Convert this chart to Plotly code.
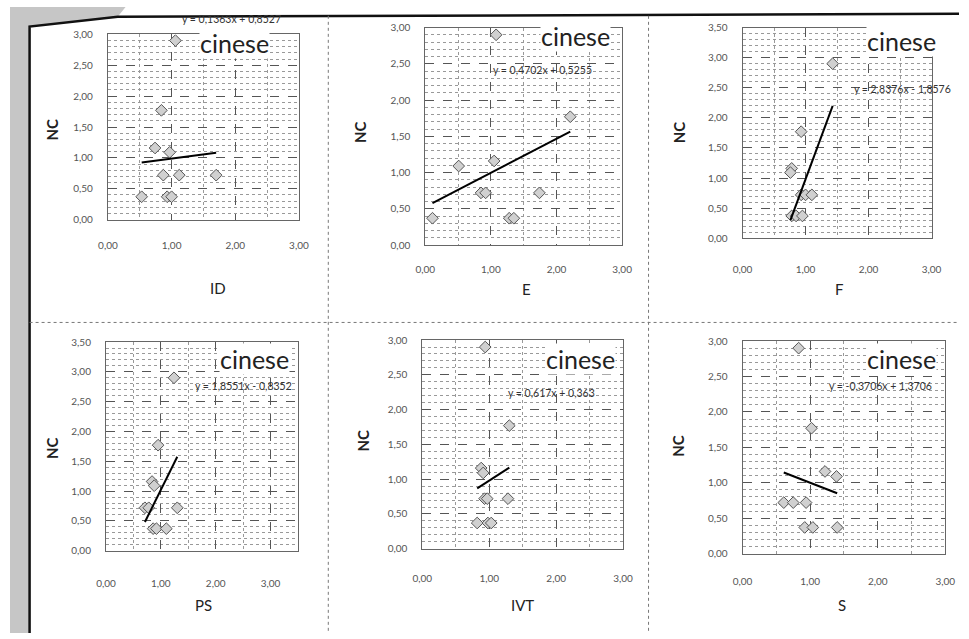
import plotly.graph_objects as go

W, H = 969, 639

# ---------------- data ----------------
NC = [2.90, 1.77, 1.16, 1.09, 0.72, 0.72, 0.72, 0.37, 0.37, 0.37]
ID = [1.06, 0.84, 0.74, 0.97, 0.87, 1.12, 1.70, 0.53, 0.93, 1.00]
E = [1.08, 2.21, 1.05, 0.51, 0.85, 0.92, 1.74, 0.11, 1.28, 1.35]
F = [1.43, 0.93, 0.78, 0.76, 0.93, 1.00, 1.10, 0.78, 0.85, 0.95]
PS = [1.24, 0.95, 0.84, 0.88, 0.71, 0.78, 1.30, 0.86, 0.92, 1.10]
IVT = [0.94, 1.30, 0.88, 0.91, 0.93, 0.97, 1.28, 0.82, 0.98, 1.03]
S = [0.83, 1.02, 1.22, 1.39, 0.61, 0.75, 0.94, 0.92, 1.04, 1.40]

variable_names = ["ID", "E", "F", "PS", "IVT", "S"]
variable_values = [ID, E, F, PS, IVT, S]
trend_slopes = [0.1363, 0.4702, 2.8376, 1.8551, 0.617, -0.3706]
trend_intercepts = [0.8527, 0.5255, -1.8576, -0.8352, 0.363, 1.3706]
equation_labels = [
    "y = 0,1363x + 0,8527",
    "y = 0,4702x + 0,5255",
    "y = 2,8376x - 1,8576",
    "y = 1,8551x - 0,8352",
    "y = 0,617x + 0,363",
    "y = -0,3706x + 1,3706",
]
group_label = "cinese"
y_title = "NC"
x_axis_max = [3.0, 3.0, 3.0, 3.5, 3.0, 3.0]
y_axis_max = [3.0, 3.0, 3.5, 3.5, 3.0, 3.0]

# ---------------- layout geometry (pixels) ----------------
# plot-area boxes: left, right, top, bottom
boxes = [
    (100, 295, 28, 217),
    (424, 625, 21, 243),
    (748, 941, 21, 236),
    (98, 294, 342, 555),
    (421, 626, 340, 553),
    (748, 955, 341, 558),
]
x_standoff = [16, 15, 22, 23, 20, 18]
nc_pos = [(43, 125), (358, 128), (683, 128), (43, 450), (360, 443), (682, 448)]
xt_pos = [(212, 287), (527, 288), (846, 288), (198, 610), (523, 610), (850, 610)]
eq_pos = [(226, 12), (544, 64), (911, 84), (238, 387), (553, 394), (889, 387)]
cin_pos = [(229, 37), (577, 30), (910, 35), (250, 359), (583, 359), (910, 359)]


def px(x):
    return x / W


def py(y):
    return 1 - y / H


FONT = "Lato"
fig = go.Figure()
annotations = []
shapes = []


def label(pos, text, size, color="#222222", **kw):
    d = dict(x=px(pos[0]), y=py(pos[1]), xref="paper", yref="paper",
             xanchor="center", yanchor="middle", text=text, showarrow=False,
             font=dict(family=FONT, size=size, color=color))
    d.update(kw)
    annotations.append(d)


for i in range(6):
    n = i + 1
    xa = "x" if n == 1 else f"x{n}"
    ya = "y" if n == 1 else f"y{n}"
    xs = variable_values[i]
    fig.add_trace(go.Scatter(
        x=xs, y=NC, mode="markers", xaxis=xa, yaxis=ya,
        marker=dict(symbol="diamond", size=9, color="#d0d0d0",
                    line=dict(color="#555555", width=1)),
        showlegend=False, hoverinfo="x+y",
    ))
    x0, x1 = min(xs), max(xs)
    fig.add_trace(go.Scatter(
        x=[x0, x1],
        y=[trend_slopes[i] * x0 + trend_intercepts[i],
           trend_slopes[i] * x1 + trend_intercepts[i]],
        mode="lines", xaxis=xa, yaxis=ya,
        line=dict(color="black", width=2),
        showlegend=False, hoverinfo="skip",
    ))
    l, r, t, b = boxes[i]
    axcommon = dict(
        showline=True, mirror=True, linecolor="#666666", linewidth=1,
        showgrid=True, gridcolor="#555555", griddash="dash", gridwidth=1,
        zeroline=False, ticks="", tickformat=".2f",
        tickfont=dict(family=FONT, size=10, color="#555555"),
    )
    fig.update_layout(**{
        ("xaxis" if n == 1 else f"xaxis{n}"): dict(
            domain=[px(l), px(r)], range=[0, x_axis_max[i]], dtick=1,
            anchor=ya, ticklabelstandoff=x_standoff[i],
            minor=dict(dtick=0.5, showgrid=True, gridcolor="#999999",
                       griddash="dot", gridwidth=1),
            **axcommon,
        ),
        ("yaxis" if n == 1 else f"yaxis{n}"): dict(
            domain=[py(b), py(t)], range=[0, y_axis_max[i]], dtick=0.5,
            anchor=xa, ticklabelstandoff=12,
            minor=dict(dtick=0.1, showgrid=True, gridcolor="#999999",
                       griddash="dot", gridwidth=1),
            **axcommon,
        ),
    })
    label(nc_pos[i], f"<b>{y_title}</b>", 15, textangle=-90)
    label(xt_pos[i], variable_names[i], 15)
    label(eq_pos[i], equation_labels[i], 10.5, color="#333333")
    label(cin_pos[i], group_label, 25, bgcolor="white", borderpad=0)

# scanned page decorations
shapes.append(dict(
    type="path", xref="paper", yref="paper",
    path=(f"M {px(0)},{py(0)} L {px(118)},{py(0)} L {px(110)},{py(10)} "
          f"L {px(20)},{py(20)} L {px(20)},{py(639)} L {px(0)},{py(639)} Z"),
    fillcolor="#c6c6c6", line=dict(width=0), layer="below"))
shapes.append(dict(
    type="path", xref="paper", yref="paper",
    path=(f"M {px(20)},{py(639)} L {px(20)},{py(20)} L {px(110)},{py(10)} "
          f"L {px(969)},{py(7)}"),
    line=dict(color="#111111", width=2.5)))
for sx in (325, 652):
    shapes.append(dict(type="line", xref="paper", yref="paper",
                       x0=px(sx), x1=px(sx), y0=py(9), y1=py(639),
                       line=dict(color="#777777", width=1, dash="dot")))
shapes.append(dict(type="line", xref="paper", yref="paper",
                   x0=px(20), x1=px(969), y0=py(322), y1=py(322),
                   line=dict(color="#777777", width=1, dash="dot")))

fig.update_layout(
    width=W, height=H, margin=dict(l=0, r=0, t=0, b=0),
    paper_bgcolor="white", plot_bgcolor="white",
    separators=",.",
    annotations=annotations, shapes=shapes,
    font=dict(family=FONT),
)

fig.write_html(
    "out.html",
    config={"displayModeBar": False},
    post_script=("document.body.style.margin='0';"
                 "document.documentElement.style.overflow='hidden';"),
)
